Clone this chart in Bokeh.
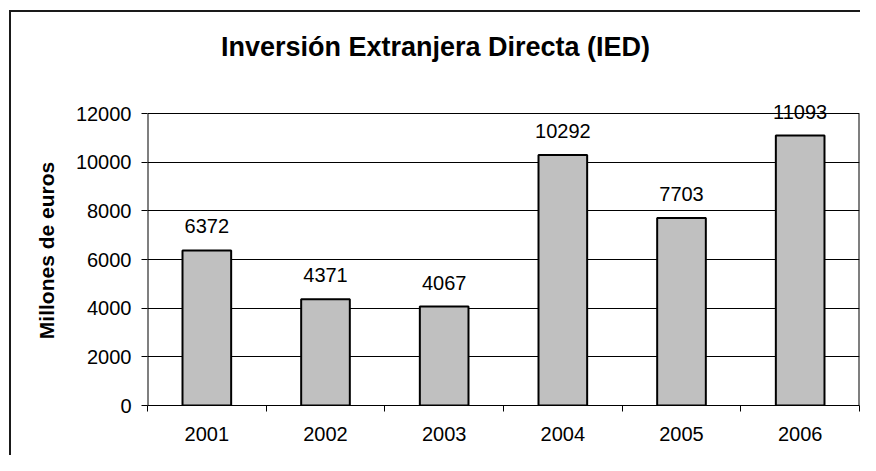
from bokeh.plotting import figure
from bokeh.models import Range1d, FixedTicker, ColumnDataSource, Div
from bokeh.layouts import column
from bokeh.core.properties import value
from bokeh.embed import file_html
from bokeh.resources import INLINE

# ---- data ----
years = ["2001", "2002", "2003", "2004", "2005", "2006"]
ied = [6372, 4371, 4067, 10292, 7703, 11093]
y_ticks = [0, 2000, 4000, 6000, 8000, 10000, 12000]
title_text = "Inversión Extranjera Directa (IED)"

FONT = "Liberation Sans"

# category slots on a linear scale: slot i spans [i, i+1]
slot_centers = [i + 0.5 for i in range(len(years))]
slot_edges = list(range(len(years) + 1))

src = ColumnDataSource(dict(x=slot_centers, ied=ied, label=[str(v) for v in ied]))

# title block
title = Div(text=('<div style="font: bold 27px \'%s\'; color: black; line-height: 31px; '
                  'padding-top: 20px; text-align: center; width: 849px;">%s</div>') % (FONT, title_text),
            width=849, height=83, margin=(0, 0, 0, 0))

# frame reaches a little above the last tick so the top value label is not clipped
p = figure(width=849, height=360, x_range=Range1d(0, len(years)),
           y_range=Range1d(0, 12740),
           output_backend="svg", toolbar_location=None,
           min_border_left=136, min_border_right=1, min_border_top=0,
           min_border_bottom=50, margin=(0, 0, 0, 0))
p.background_fill_color = "white"
p.border_fill_color = "white"
p.outline_line_color = None

# grids
p.xgrid.grid_line_color = None
p.ygrid.grid_line_color = "black"
p.ygrid.grid_line_width = 1

# y axis
ya = p.yaxis[0]
ya.ticker = FixedTicker(ticks=y_ticks, minor_ticks=[])
ya.axis_label = "Millones de euros"
ya.axis_label_text_font = FONT
ya.axis_label_text_font_size = "21px"
ya.axis_label_text_font_style = "bold"
ya.axis_label_text_color = "black"
ya.axis_label_standoff = 15
ya.major_label_text_font = FONT
ya.major_label_text_font_size = "20px"
ya.major_label_text_color = "black"
ya.major_label_standoff = 10
ya.major_tick_in = 0
ya.major_tick_out = 6
ya.major_tick_line_color = "black"
ya.minor_tick_line_color = None
ya.axis_line_color = None

# x axis: labels at slot centres, ticks at slot edges
xa = p.xaxis[0]
xa.ticker = FixedTicker(ticks=slot_centers, minor_ticks=slot_edges)
xa.major_label_overrides = {c: y for c, y in zip(slot_centers, years)}
xa.major_tick_line_color = None
xa.major_tick_in = 0
xa.major_tick_out = 0
xa.minor_tick_line_color = "black"
xa.minor_tick_in = 0
xa.minor_tick_out = 6
xa.axis_line_color = "black"
xa.major_label_standoff = 15
xa.major_label_text_font = FONT
xa.major_label_text_font_size = "20px"
xa.major_label_text_color = "black"

# plot-area side edges, up to the top tick
p.segment(x0=[slot_edges[0], slot_edges[-1]], y0=[y_ticks[0]] * 2,
          x1=[slot_edges[0], slot_edges[-1]], y1=[y_ticks[-1]] * 2,
          line_color="black", line_width=2)

# bars
p.vbar(x="x", top="ied", width=0.41, source=src, fill_color="#C0C0C0",
       line_color="black", line_width=2)

# value labels
p.text(x="x", y="ied", text="label", source=src, text_align="center",
       text_baseline="alphabetic", y_offset=-24, text_font=value(FONT),
       text_font_size="20px", text_color="black")

layout = column(title, p, spacing=0)
layout.styles = {"border-left": "2px solid #1a1a1a", "border-top": "2px solid #1a1a1a",
                 "margin-top": "10px", "margin-left": "9px", "box-sizing": "content-box",
                 "background-color": "white"}

open("out.html", "w").write(file_html(layout, INLINE))
